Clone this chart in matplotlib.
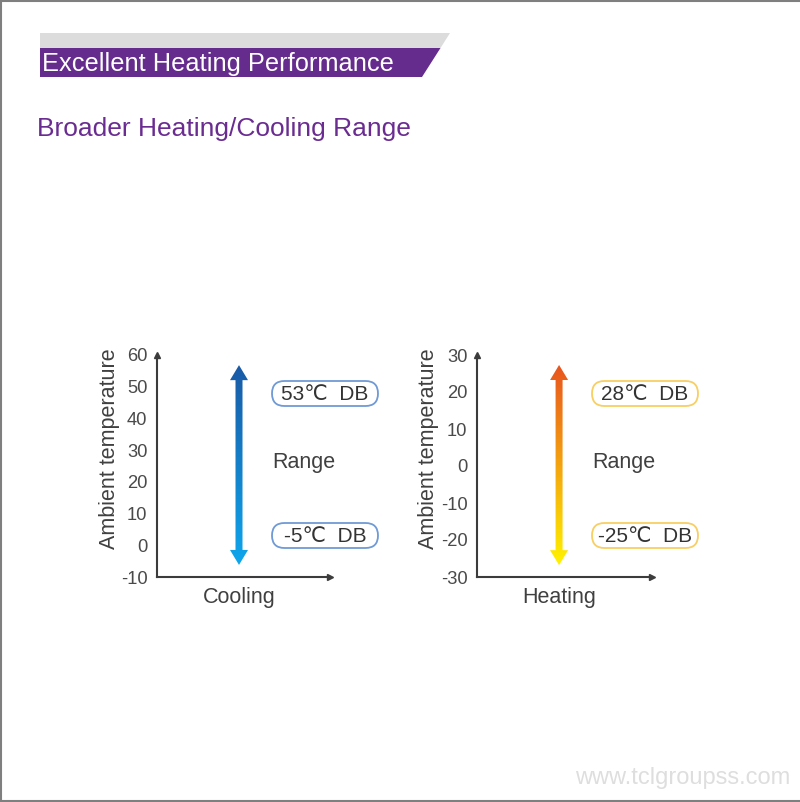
import numpy as np
import matplotlib
matplotlib.use('Agg')
import matplotlib.pyplot as plt
from matplotlib.patches import Polygon, FancyBboxPatch
from matplotlib.colors import LinearSegmentedColormap

plt.rcParams['font.family'] = ['Liberation Sans', 'DejaVu Sans']
plt.rcParams['axes.unicode_minus'] = False

# data
title = 'Excellent Heating Performance'
subtitle = 'Broader Heating/Cooling Range'
modes = ['Cooling', 'Heating']
y_limits = [(-10, 60), (-30, 30)]
y_ticks = [list(range(-10, 61, 10)), list(range(-30, 31, 10))]
arrow_ends = [(-6.2, 56.8), (-26.8, 27.3)]   # drawn arrow tips (bottom, top)
range_hi = [53, 28]
range_lo = [-5, -25]
arrow_colors = [('#0ea6ec', '#1a5aa6'), ('#fff200', '#e8541f')]  # bottom, top
box_edges = ['#6f9ad6', '#f8cf63']

W, H = 800, 802
fig = plt.figure(figsize=(W / 100, H / 100), dpi=100)

# overlay in pixel coordinates for the banner, frame and boxes
bg = fig.add_axes([0, 0, 1, 1])
bg.set_xlim(0, W)
bg.set_ylim(H, 0)
bg.axis('off')

# frame (top, left, bottom)
bg.plot([0, W], [0.8, 0.8], color='#7f7f7f', lw=1.5, solid_capstyle='butt')
bg.plot([0.8, 0.8], [0, H], color='#7f7f7f', lw=1.5, solid_capstyle='butt')
bg.plot([0, W], [800.5, 800.5], color='#7f7f7f', lw=1.5, solid_capstyle='butt')

# banner
bg.add_patch(Polygon([(40, 33), (450, 33), (440.5, 48), (40, 48)], closed=True,
                     facecolor='#dcdcdc', edgecolor='none'))
bg.add_patch(Polygon([(40, 48), (440.5, 48), (422, 77), (40, 77)], closed=True,
                     facecolor='#652c8e', edgecolor='none'))
bg.text(42, 64, title, color='white', fontsize=18.3, ha='left', va='center')
bg.text(37, 129, subtitle, color='#6a2c91', fontsize=19, ha='left', va='center')

# watermark
bg.text(790, 778, 'www.tclgroupss.com', color='#dedede', fontsize=17,
        ha='right', va='center')

axes_px = [(157, 330), (477, 652)]   # left x, right x of each chart in pixels
top_px, bottom_px = 355, 577
arrow_x = [0.474, 0.469]


def grad_arrow(ax, x, y0, y1, c_bot, c_top, shaft=7, head_w=18, head_l=15):
    # build the double arrow outline in pixels then map back to data
    to_px = ax.transData
    xc, yb = to_px.transform((x, y0))
    _, yt = to_px.transform((x, y1))
    pts = [(xc, yt), (xc + head_w / 2, yt - head_l), (xc + shaft / 2, yt - head_l),
           (xc + shaft / 2, yb + head_l), (xc + head_w / 2, yb + head_l), (xc, yb),
           (xc - head_w / 2, yb + head_l), (xc - shaft / 2, yb + head_l),
           (xc - shaft / 2, yt - head_l), (xc - head_w / 2, yt - head_l)]
    pts = to_px.inverted().transform(pts)
    poly = Polygon(pts, closed=True, facecolor='none', edgecolor='none',
                   transform=ax.transData)
    ax.add_patch(poly)
    cmap = LinearSegmentedColormap.from_list('g', [c_bot, c_top])
    grad = np.linspace(0, 1, 256).reshape(-1, 1)
    x0, x1 = pts[:, 0].min(), pts[:, 0].max()
    im = ax.imshow(grad, cmap=cmap, origin='lower', aspect='auto',
                   extent=(x0, x1, y0, y1), clip_on=True, zorder=3)
    im.set_clip_path(poly)


for i, mode in enumerate(modes):
    xl, xr = axes_px[i]
    ax = fig.add_axes([xl / W, (H - bottom_px) / H, (xr - xl) / W,
                       (bottom_px - top_px) / H])
    ax.patch.set_visible(False)
    ax.set_xlim(0, 1)
    ax.set_ylim(*y_limits[i])
    for s in ['top', 'right']:
        ax.spines[s].set_visible(False)
    for s in ['left', 'bottom']:
        ax.spines[s].set_color('#3c3c3c')
        ax.spines[s].set_linewidth(1.5)
    ax.plot(1, 0, '>', color='#3c3c3c', ms=5, transform=ax.transAxes,
            clip_on=False)
    ax.plot(0, 1, '^', color='#3c3c3c', ms=5, transform=ax.transAxes,
            clip_on=False)
    ax.set_xticks([])
    ax.set_yticks(y_ticks[i])
    ax.tick_params(axis='y', length=0, pad=7, labelsize=13.2, labelcolor='#4a4a4a')

    ax.set_ylabel('Ambient temperature', fontsize=15.5, color='#404040')
    ax.yaxis.label.set_va('center')
    ax.yaxis.set_label_coords(-48 / (xr - xl), 0.577)
    ax.set_xlabel(mode, fontsize=15.5, color='#404040')
    ax.xaxis.set_label_coords(arrow_x[i], -0.045)

    grad_arrow(ax, arrow_x[i], arrow_ends[i][0], arrow_ends[i][1],
               arrow_colors[i][0], arrow_colors[i][1])
    ax.set_xlim(0, 1)
    ax.set_ylim(*y_limits[i])

    ax.text(115 / (xr - xl), 0.518, 'Range', transform=ax.transAxes,
            fontsize=15.5, color='#404040', ha='left', va='center')

    # value boxes
    bx = xl + 115
    for val, yc in [(range_hi[i], 393.5), (range_lo[i], 535.5)]:
        bg.add_patch(FancyBboxPatch((bx, yc - 12.5), 106, 25,
                                    boxstyle='round,pad=0,rounding_size=12.5',
                                    facecolor='white', edgecolor=box_edges[i], lw=1.3))
        bg.text(bx + 53, yc + 0.5, f'{val}℃  DB', fontsize=15, color='#333333',
                ha='center', va='center')

fig.savefig('out.png', dpi=100)
